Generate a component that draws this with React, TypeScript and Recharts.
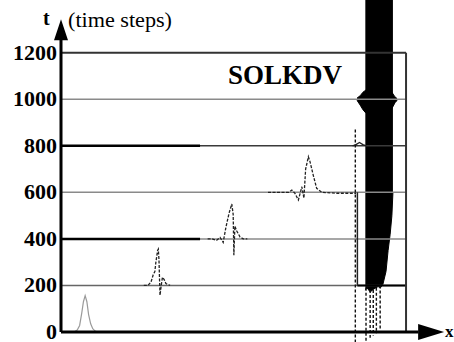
import { ComposedChart, Line, Area, XAxis, YAxis, ReferenceLine, ReferenceDot } from "recharts";

const SERIF = "'Liberation Serif', 'Times New Roman', 'DejaVu Serif', serif";

// time slices (time steps) and y tick labels
const yTicks = [0, 200, 400, 600, 800, 1000, 1200];
const grayLevels = [200, 400, 600, 800, 1000];
const grayColors = ["#666", "#8a8a8a", "#8a8a8a", "#3a3a3a", "#8a8a8a"];

// soliton profiles: x position (0..100 across the box), u = offset in time units
const pulse0X = [0, 3.8, 4.7, 5.4, 6.0, 6.5, 7.0, 7.5, 8.0, 8.6, 9.2, 9.9, 10.6, 15.5];
const pulse0U = [0, 0, 8, 28, 80, 130, 156, 130, 75, 35, 14, 4, 0, 0];

const pulse200X = [24.0, 25.2, 26.1, 26.7, 27.2, 27.5, 28.0, 28.2, 28.4, 28.55, 28.7, 29.0, 29.4, 29.9, 30.4, 31.6];
const pulse200U = [0, 0, 15, 45, 60, 100, 150, 156, 110, 30, -42, -5, 35, 25, 8, 0];

const pulse400X = [42.5, 43.7, 45.1, 46.1, 47.0, 47.8, 48.7, 49.5, 49.9, 50.1, 50.4, 50.9, 51.9, 52.8, 54.0];
const pulse400U = [0, 0, -6, 6, -15, 50, 110, 150, 105, -70, 55, 35, 8, 0, 0];

const pulse600X = [60.0, 66.0, 66.9, 67.8, 68.8, 69.8, 70.4, 70.9, 71.7, 72.2, 73.1, 74.1, 75.6, 80.0, 85.5];
const pulse600U = [0, 0, 10, -4, -33, 24, -25, 100, 153, 130, 74, 17, 0, -4, -4];

const pulse800X = [84.5, 85.5, 86.5, 87.5, 88.5];
const pulse800U = [0, 5, 14, 5, 0];

// blow-up region (numerical instability), range [low, high] per x
const colX = [88.2, 88.7, 89.6, 90.7, 91.9, 92.6, 93.3, 94.2, 94.8, 95.4, 95.9, 96.2];
const colLow = [180, 190, 172, 185, 195, 190, 205, 260, 350, 420, 500, 600];
const colHigh = [1500, 1500, 1500, 1500, 1500, 1500, 1500, 1500, 1500, 1500, 1500, 1500];

const blobX = [85.8, 86.7, 87.5, 88.4, 95.9, 96.8, 97.4];
const blobLow = [995, 975, 955, 940, 960, 985, 995];
const blobHigh = [1005, 1015, 1030, 1040, 1030, 1010, 1003];

// dashed traces dropping below the column
const dropX = [85.3, 88.4, 89.6, 90.5, 91.4, 92.5];
const dropTop = [870, 190, 180, 180, 190, 200];
const dropBottom = [-43, -43, -25, -15, -5, 15];

const toRows = (xs: number[], us: number[], base: number) =>
  xs.map((x, i) => ({ x, t: base + us[i] }));

const flat = (t: number, x0: number, x1: number) => [
  { x: x0, t },
  { x: x1, t },
];

const rangeRows = (xs: number[], lo: number[], hi: number[]) =>
  xs.map((x, i) => ({ x, r: [lo[i], hi[i]] }));

const YTick = ({ x, y, payload }: any) => {
  const s = String(payload.value);
  return (
    <text
      x={x}
      y={y}
      dy={7}
      textAnchor="end"
      style={{ fontFamily: SERIF, fontWeight: 700, fontSize: 20 }}
      textLength={11 * s.length}
      lengthAdjust="spacingAndGlyphs"
      fill="#000"
    >
      {s}
    </text>
  );
};

const UpArrow = ({ cx, cy }: any) => (
  <polygon points={`${cx - 7},${cy} ${cx + 7},${cy} ${cx},${cy - 21}`} fill="#000" />
);

const RightArrow = ({ cx, cy }: any) => (
  <polygon points={`${cx},${cy - 8} ${cx},${cy + 8} ${cx + 26},${cy}`} fill="#000" />
);

export default function App() {
  return (
    <div style={{ position: "absolute", left: 0, top: 0, width: 454, height: 342, background: "#fff" }}>
      <ComposedChart width={454} height={342} margin={{ top: 0, right: 0, bottom: 0, left: 0 }}>
        <XAxis type="number" dataKey="x" domain={[0, 113.9]} allowDataOverflow hide />
        <YAxis
          type="number"
          dataKey="t"
          domain={[-43, 1426.4]}
          allowDataOverflow
          ticks={yTicks}
          width={61}
          axisLine={false}
          tickLine={false}
          tickSize={0}
          tickMargin={4}
          tick={<YTick />}
          interval={0}
        />

        {/* gray time-slice baselines */}
        {grayLevels.map((lv, i) => (
          <Line
            key={`g${lv}`}
            data={flat(lv, 0, 100)}
            dataKey="t"
            stroke={grayColors[i]}
            strokeWidth={1.5}
            dot={false}
            isAnimationActive={false}
          />
        ))}
        {/* top slice (t = 1200) */}
        <Line data={flat(1200, 0, 100)} dataKey="t" stroke="#333" strokeWidth={2} dot={false} isAnimationActive={false} />
        {/* darker segments */}
        <Line data={flat(800, 0, 40.3)} dataKey="t" stroke="#000" strokeWidth={2.5} dot={false} isAnimationActive={false} />
        <Line data={flat(400, 0, 40.3)} dataKey="t" stroke="#000" strokeWidth={2.5} dot={false} isAnimationActive={false} />
        <Line data={flat(200, 85.9, 100)} dataKey="t" stroke="#000" strokeWidth={2} dot={false} isAnimationActive={false} />
        <Line
          data={[{ x: 85.9, t: 600 }, { x: 85.9, t: 200 }]}
          dataKey="t"
          stroke="#222"
          strokeWidth={1.5}
          dot={false}
          isAnimationActive={false}
        />

        {/* soliton pulses */}
        <Line data={toRows(pulse0X, pulse0U, 0)} dataKey="t" stroke="#9a9a9a" strokeWidth={1.2} dot={false} isAnimationActive={false} />
        <Line data={toRows(pulse200X, pulse200U, 200)} dataKey="t" stroke="#222" strokeWidth={1.3} strokeDasharray="3 1.5" dot={false} isAnimationActive={false} />
        <Line data={toRows(pulse400X, pulse400U, 400)} dataKey="t" stroke="#222" strokeWidth={1.3} strokeDasharray="3 1.5" dot={false} isAnimationActive={false} />
        <Line data={toRows(pulse600X, pulse600U, 600)} dataKey="t" stroke="#222" strokeWidth={1.3} strokeDasharray="3 1.5" dot={false} isAnimationActive={false} />
        <Line data={toRows(pulse800X, pulse800U, 800)} dataKey="t" stroke="#222" strokeWidth={1.3} dot={false} isAnimationActive={false} />

        {/* dashed drops */}
        {dropX.map((x, i) => (
          <Line
            key={`d${i}`}
            data={[{ x, t: dropTop[i] }, { x, t: dropBottom[i] }]}
            dataKey="t"
            stroke="#111"
            strokeWidth={1.4}
            strokeDasharray="3 2"
            dot={false}
            isAnimationActive={false}
          />
        ))}

        {/* blow-up region */}
        <Area type="linear" data={rangeRows(colX, colLow, colHigh)} dataKey="r" stroke="#000" strokeWidth={1} fill="#000" fillOpacity={1} isAnimationActive={false} />
        <Area type="linear" data={rangeRows(blobX, blobLow, blobHigh)} dataKey="r" stroke="#000" strokeWidth={1} fill="#000" fillOpacity={1} isAnimationActive={false} />

        {/* box and axes */}
        <ReferenceLine segment={[{ x: 100, y: 0 }, { x: 100, y: 1200 }]} stroke="#333" strokeWidth={2} />
        <ReferenceLine segment={[{ x: 0, y: 0 }, { x: 103.6, y: 0 }]} stroke="#000" strokeWidth={3} />
        <ReferenceLine segment={[{ x: 0, y: 0 }, { x: 0, y: 1256 }]} stroke="#000" strokeWidth={3} />
        <ReferenceDot x={0} y={1254} r={0} shape={<UpArrow />} />
        <ReferenceDot x={103.5} y={0} r={0} shape={<RightArrow />} />

        <text x={43} y={25} style={{ fontFamily: SERIF, fontWeight: 700, fontSize: 20 }} fill="#000">t</text>
        <text x={68} y={27} style={{ fontFamily: SERIF, fontSize: 20 }} textLength={104} lengthAdjust="spacingAndGlyphs" fill="#000">
          (time steps)
        </text>
        <text x={445} y={337} style={{ fontFamily: SERIF, fontWeight: 700, fontSize: 17 }} fill="#000">x</text>
        <text x={285} y={84} textAnchor="middle" style={{ fontFamily: SERIF, fontWeight: 700, fontSize: 27 }} fill="#000">
          SOLKDV
        </text>
      </ComposedChart>
    </div>
  );
}
